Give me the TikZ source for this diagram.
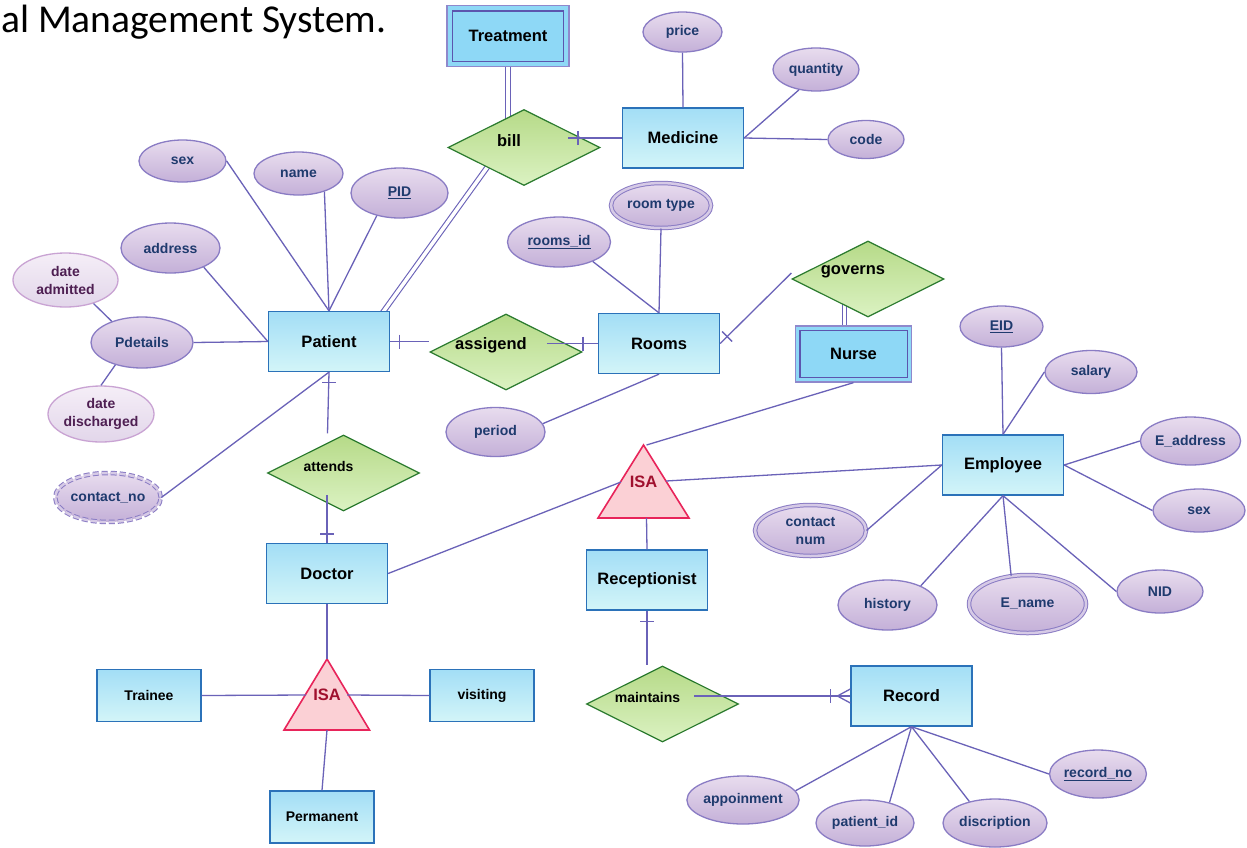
\documentclass[tikz,border=0pt]{standalone}
\usepackage{fontspec}
\setmainfont{Liberation Sans}
\newfontfamily\titlefont{Carlito}
\usetikzlibrary{shapes.geometric,calc}
\pgfdeclarelayer{bg}
\pgfsetlayers{bg,main}

\definecolor{entTop}{HTML}{A3DEF6}
\definecolor{entBot}{HTML}{D3F5F8}
\definecolor{entLine}{HTML}{2B72B9}
\definecolor{weakFill}{HTML}{8ED8F6}
\definecolor{weakOut}{HTML}{8F88CC}
\definecolor{weakIn}{HTML}{5C55AE}
\definecolor{relTop}{HTML}{B6DA88}
\definecolor{relBot}{HTML}{DBF2C2}
\definecolor{relLine}{HTML}{2A7A2E}
\definecolor{attTop}{HTML}{E8DCEE}
\definecolor{attBot}{HTML}{C4B0D8}
\definecolor{attLine}{HTML}{8A7CC4}
\definecolor{attGap}{HTML}{D6CAE6}
\definecolor{attText}{HTML}{1F3A6E}
\definecolor{lgtTop}{HTML}{F5EEF7}
\definecolor{lgtBot}{HTML}{E2D6EA}
\definecolor{lgtLine}{HTML}{C9A3D3}
\definecolor{lgtText}{HTML}{4E1F52}
\definecolor{isaFill}{HTML}{FBD0D5}
\definecolor{isaLine}{HTML}{E8245A}
\definecolor{isaText}{HTML}{A0102E}
\definecolor{linkCol}{HTML}{6A62B8}

\tikzset{
  sz/.style 2 args={minimum width=#1pt, minimum height=#2pt},
  entity/.style={rectangle, draw=entLine, line width=1.3pt, top color=entTop,
    bottom color=entBot, minimum width=121pt, minimum height=60pt, inner sep=0pt,
    font=\fontsize{16.5}{18}\selectfont\bfseries},
  subent/.style={entity, minimum width=104pt, minimum height=52pt,
    font=\fontsize{14}{16}\selectfont\bfseries},
  weak/.style={rectangle, draw=weakOut, line width=1.3pt, fill=weakFill, inner sep=0pt,
    font=\fontsize{16.5}{18}\selectfont\bfseries},
  rel/.style={diamond, draw=relLine, line width=1.2pt, top color=relTop,
    bottom color=relBot, minimum width=152pt, minimum height=76pt, inner sep=0pt},
  reltext/.style={font=\fontsize{16.5}{18}\selectfont\bfseries, xshift=-15pt, yshift=7pt},
  relsmall/.style={reltext, font=\fontsize{14}{16}\selectfont\bfseries},
  attr/.style={ellipse, draw=attLine, line width=1.3pt, top color=attTop,
    bottom color=attBot, inner sep=0pt, text=attText, align=center,
    font=\fontsize{14}{18}\selectfont\bfseries},
  multival/.style={attr, line width=1pt, double=attGap, double distance=2.5pt},
  pale/.style={attr, draw=lgtLine, top color=lgtTop, bottom color=lgtBot, text=lgtText},
  isa/.style={draw=isaLine, fill=isaFill, line width=1.6pt, line join=miter},
  isatext/.style={text=isaText, font=\fontsize{16.5}{18}\selectfont\bfseries, inner sep=0pt},
  conn/.style={draw=linkCol, line width=1.3pt},
  dbl/.style={draw=linkCol, line width=1.1pt, double=white, double distance=3.5pt},
}

\begin{document}
\begin{tikzpicture}[x=1pt, y=-1pt]
\useasboundingbox (0,0) rectangle (1247,847);

% heading
\node[anchor=base west, inner sep=0pt, font=\titlefont\fontsize{39.5}{42}\selectfont] (title) at (1,32) {al Management System.};

% ---------- entities ----------
\node[entity] (patient) at (329,341.5) {Patient};
\node[entity] (rooms) at (659,343.5) {Rooms};
\node[entity] (med) at (683,138) {Medicine};
\node[entity] (emp) at (1003,465) {Employee};
\node[entity] (doctor) at (327,573.5) {Doctor};
\node[entity] (recep) at (647,580) {Receptionist};
\node[entity] (record) at (911.5,696) {Record};
\node[subent] (trainee) at (149,695.5) {Trainee};
\node[subent] (visit) at (482,695.5) {visiting};
\node[subent] (perm) at (322,817) {Permanent};

% weak entities
\node[weak, sz={122}{61}] (treat) at (508,36) {Treatment};
\draw[weakIn, line width=1.3pt] ($(treat.north west)+(6,6)$) rectangle ($(treat.south east)+(-6,-6)$);
\node[weak, sz={116}{56}] (nurse) at (853.5,354) {Nurse};
\draw[weakIn, line width=1.3pt] ($(nurse.north west)+(5,5)$) rectangle ($(nurse.south east)+(-5,-5)$);

% ---------- relationships ----------
\node[rel, label={[reltext]center:bill}] (bill) at (524,147.5) {};
\node[rel, label={[reltext]center:assigend}] (assig) at (506,352) {};
\node[rel, label={[reltext]center:governs}] (gov) at (868,279) {};
\node[rel, label={[relsmall]center:attends}] (attends) at (343.5,473) {};
\node[rel, label={[relsmall]center:maintains}] (maint) at (662.5,704) {};

% ---------- specialisations ----------
\coordinate (isa1) at (643.5,482);
\draw[isa] ($(isa1)+(0,-37)$) -- ($(isa1)+(45.5,36)$) -- ($(isa1)+(-45.5,36)$) -- cycle;
\node[isatext] (isa1t) at (isa1) {ISA};
\coordinate (isa2) at (327,695);
\draw[isa] ($(isa2)+(0,-36)$) -- ($(isa2)+(42.5,35)$) -- ($(isa2)+(-43,35)$) -- cycle;
\node[isatext] (isa2t) at (isa2) {ISA};

% ---------- attributes ----------
\node[attr, sz={79}{40}] (price) at (682.5,32) {price};
\node[attr, sz={86}{43}] (qty) at (816,69.5) {quantity};
\node[attr, sz={76}{38}] (code) at (866,139.5) {code};
\node[attr, sz={87}{42}] (sexP) at (182.5,161) {sex};
\node[attr, sz={89}{43}] (nameP) at (298.5,173.5) {name};
\node[attr, sz={97}{50}] (pid) at (399.5,193) {\underline{PID}};
\node[attr, sz={99}{50}] (addr) at (170.5,248) {address};
\node[pale, sz={105}{54}] (dadm) at (65.5,280) {date\\admitted};
\node[attr, sz={102}{51}] (pdet) at (142,342.5) {Pdetails};
\node[pale, sz={106}{56}] (ddis) at (101,414) {date\\discharged};
\node[multival, dash pattern=on 6pt off 3pt, sz={102}{49}] (cno) at (108,497.5) {contact\_no};
\node[attr, sz={103}{50}] (rid) at (559,242) {\underline{rooms\_id}};
\node[multival, sz={100}{45}] (rtype) at (661,205.5) {room type};
\node[attr, sz={99}{49}] (period) at (495.5,432) {period};
\node[attr, sz={83}{41}] (eid) at (1001.5,326.5) {\underline{EID}};
\node[attr, sz={92}{43}] (sal) at (1091,372) {salary};
\node[attr, sz={97}{48}] (ead) at (1190.5,441) {E\_address};
\node[attr, sz={92}{43}] (esex) at (1199,510.5) {sex};
\node[multival, sz={111}{51}] (cnum) at (810.5,530.5) {contact\\num};
\node[attr, sz={99}{50}] (hist) at (887.5,605) {history};
\node[multival, sz={117}{58}] (ename) at (1027.5,604) {E\_name};
\node[attr, sz={86}{43}] (nid) at (1160,591.5) {NID};
\node[attr, sz={106}{48}] (app) at (743,800) {appoinment};
\node[attr, sz={98}{46}] (ptid) at (865,823) {patient\_id};
\node[attr, sz={104}{48}] (disc) at (995,823) {discription};
\node[attr, sz={92}{48}] (rno) at (1098,774) {\underline{record\_no}};

% ---------- white page and total participation (double lines), behind the shapes ----------
\begin{pgfonlayer}{bg}
\fill[white] (0,0) rectangle (1247,847);
\draw[dbl] (treat.south) -- ($(bill)+(-16,-20)$);
\draw[dbl] ($(bill)+(-24,2)$) -- ($(patient)+(30,4)$);
\draw[dbl] ($(nurse.north)+(-9,0)$) -- ($(gov)+(-23.5,0)$);
\end{pgfonlayer}

% ---------- connectors ----------
\begin{scope}[conn]
% Patient
\draw (sexP.east) -- (patient.north);
\draw (nameP.-35) -- (patient.north);
\draw (pid.-135) -- (patient.north);
\draw (addr.-30) -- (patient.west);
\draw (pdet.east) -- (patient.west);
\draw (dadm.-40) -- (pdet.145);
\draw (pdet.-140) -- (ddis.north);
\draw (cno.east) -- (patient.south);
\draw (patient.east) -- (patient.east -| assig.west);
\draw ($(patient.east)+(9,-7)$) -- ($(patient.east)+(9,7)$);
% assigend - Rooms
\draw ($(rooms.west)+(-51,0)$) -- (rooms.west);
\draw ($(rooms.west)+(-15,-7)$) -- ($(rooms.west)+(-15,7)$);
% bill - Medicine
\draw ($(med.west)+(-54,0)$) -- (med.west);
\draw ($(med.west)+(-44,-7)$) -- ($(med.west)+(-44,7)$);
% Medicine
\draw (price.south) -- (med.north);
\draw (qty.-130) -- (med.east);
\draw (code.west) -- (med.east);
% Rooms
\draw (rid.-30) -- (rooms.north);
\draw (rtype.south) -- (rooms.north);
\draw (period.10) -- (rooms.south);
\draw (rooms.east) -- ($(gov.west)+(0,-6)$);
\draw ($(rooms.east)+(2,-12)$) -- ($(rooms.east)+(12,-2)$);
% Nurse and the ISA of Employee
\draw (nurse.south) -- ($(isa1)+(3,-37)$);
\draw (doctor.east) -- ($(isa1)+(-22.5,0)$);
\draw ($(isa1)+(22.5,-1)$) -- (emp.west);
\draw ($(isa1)+(3,36)$) -- (recep.north);
% Receptionist - maintains - Record
\draw (recep.south) -- (recep.south |- maint.north);
\draw ($(recep.south)+(-7,11)$) -- ($(recep.south)+(7,11)$);
\draw ($(record.west)+(-156,0)$) -- (record.west);
\draw ($(record.west)+(-20,-7)$) -- ($(record.west)+(-20,7)$);
\draw ($(record.west)+(0,-7)$) -- ($(record.west)+(-13,0)$) -- ($(record.west)+(0,7)$);
% Record
\draw (app.10) -- (record.south);
\draw (ptid.40) -- (record.south);
\draw (disc.140) -- (record.south);
\draw (rno.west) -- (record.south);
% Employee
\draw (eid.south) -- (emp.north);
\draw (sal.west) -- (emp.north);
\draw (ead.west) -- (emp.east);
\draw (esex.west) -- (emp.east);
\draw (cnum.east) -- (emp.west);
\draw (hist.30) -- (emp.south);
\draw (ename.120) -- (emp.south);
\draw (nid.west) -- (emp.south);
% Patient - attends - Doctor
\draw (patient.south) -- ($(attends.north)+(-16,-1)$);
\draw ($(patient.south)+(-7,10)$) -- ($(patient.south)+(7,10)$);
\draw ($(doctor.north)+(0,-48)$) -- (doctor.north);
\draw ($(doctor.north)+(-7,-9)$) -- ($(doctor.north)+(7,-9)$);
% Doctor specialisation
\draw (doctor.south) -- ($(isa2)+(0,-36)$);
\draw (trainee.east) -- ($(isa2)+(-21,0)$);
\draw ($(isa2)+(20,0)$) -- (visit.west);
\draw ($(isa2)+(0,35)$) -- (perm.north);
\end{scope}
\end{tikzpicture}
\end{document}
